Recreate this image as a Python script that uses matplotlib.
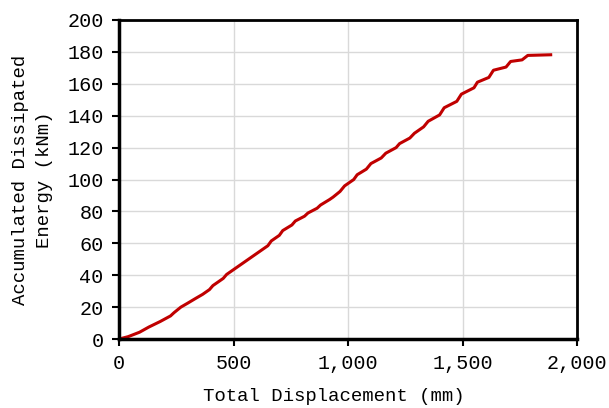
import matplotlib
matplotlib.use("Agg")
import matplotlib.pyplot as plt
from matplotlib.ticker import FuncFormatter, MultipleLocator

# Curve (mm, kNm)
displacement = [0, 40, 90, 130, 180, 225, 240, 270, 300, 335, 365, 395, 410, 430,
                455, 470, 510, 545, 560, 590, 610, 625, 650, 665, 700, 715, 755,
                770, 810, 825, 865, 880, 920, 935, 965, 985, 1025, 1040, 1080,
                1100, 1145, 1165, 1210, 1225, 1270, 1290, 1330, 1350, 1400, 1420,
                1475, 1495, 1550, 1565, 1615, 1635, 1690, 1710, 1760, 1785, 1885]
energy = [0, 1.5, 4.3, 7.5, 11, 14.5, 16.5, 20, 22.5, 25.5, 28, 31, 33.5, 35.5,
          38, 40.5, 44.5, 48, 49.5, 52.5, 54.5, 56, 58.5, 61.5, 65, 68, 71.5,
          74, 77, 79, 82, 84, 87.5, 89, 92.5, 96, 100, 103, 106.5,
          110, 113.5, 116.5, 120, 122.5, 126, 129, 133, 136.5, 140.5, 145,
          149, 153.5, 157.5, 161, 164, 168.5, 170.5, 174, 175, 177.8, 178.2]

plt.rcParams["font.family"] = ["Liberation Mono", "DejaVu Sans"]

fig = plt.figure(figsize=(6.09, 4.08), dpi=100)
ax = fig.add_axes([0.1954, 0.169, 0.7521, 0.782])

ax.plot(displacement, energy, color="#c00000", linewidth=2.2)

ax.set_xlim(0, 2000)
ax.set_ylim(0, 200)
ax.xaxis.set_major_locator(MultipleLocator(500))
ax.yaxis.set_major_locator(MultipleLocator(20))
ax.xaxis.set_major_formatter(FuncFormatter(lambda v, p: f"{v:,.0f}"))

ax.grid(True, color="#d9d9d9", linewidth=1)
ax.set_axisbelow(True)

for side in ["left", "bottom"]:
    ax.spines[side].set_linewidth(2.5)
for side in ["top", "right"]:
    ax.spines[side].set_linewidth(2)

ax.tick_params(axis="both", direction="out", length=5, width=1.5,
               labelsize=14.5, colors="black", pad=6)

ax.set_xlabel("Total Displacement (mm)", fontsize=13.7, va="center")
ax.xaxis.set_label_coords(0.468, -0.179)
ax.set_ylabel("Accumulated Dissipated\nEnergy (kNm)", fontsize=13.7,
              labelpad=10, linespacing=1.6)

fig.savefig("out.png", dpi=100)
